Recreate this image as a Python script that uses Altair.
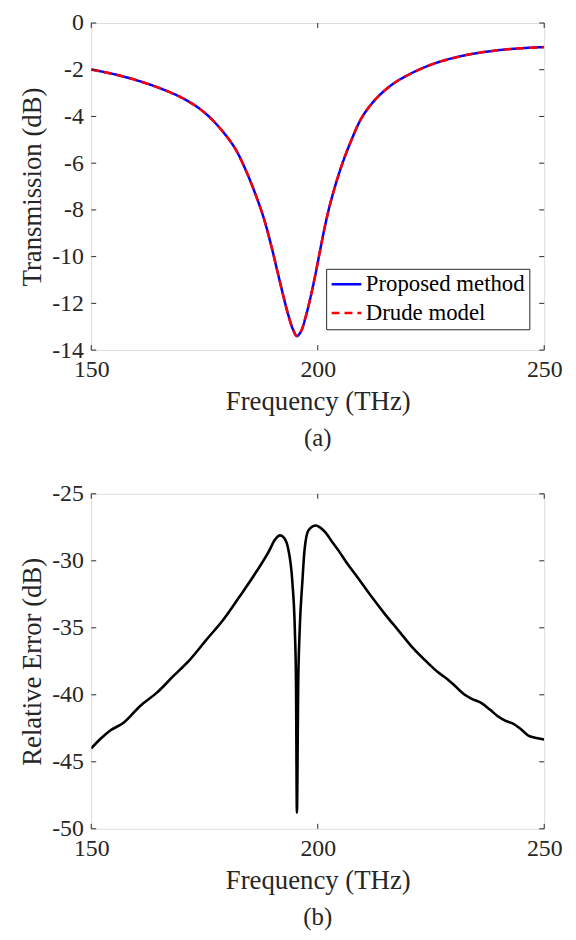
import altair as alt
import pandas as pd

# ---------------- data ----------------
freq_a = [150, 155, 160, 165, 170, 174, 177, 180, 182, 184, 186, 188, 189.5, 191,
          192.3, 193.5, 194.5, 195.4, 196.3, 197.3, 198.4, 199.5, 200.6, 201.7,
          202.8, 205.0, 207.2, 209.7, 212.6, 216.3, 220.7, 225.8, 232.3, 239.6,
          245, 250]
trans_proposed = [-1.99, -2.19, -2.45, -2.78, -3.20, -3.68, -4.20, -4.88, -5.45,
                  -6.25, -7.20, -8.30, -9.35, -10.55, -11.60, -12.50, -13.10,
                  -13.40, -13.20, -12.60, -11.75, -10.75, -9.65, -8.60, -7.70,
                  -6.26, -5.12, -4.06, -3.30, -2.65, -2.15, -1.73, -1.39, -1.17,
                  -1.08, -1.03]
trans_drude = [-1.99, -2.19, -2.45, -2.78, -3.20, -3.68, -4.20, -4.88, -5.45,
               -6.25, -7.20, -8.30, -9.35, -10.55, -11.60, -12.50, -13.10,
               -13.40, -13.20, -12.60, -11.75, -10.75, -9.65, -8.60, -7.70,
               -6.26, -5.12, -4.06, -3.30, -2.65, -2.15, -1.73, -1.39, -1.17,
               -1.08, -1.03]

freq_b = [150, 152, 154.2, 157.2, 160.8, 164.5, 168.1, 171.8, 175.4, 179.1, 182.7,
          186.4, 189.3, 190.5, 191.7, 192.6, 193.5, 194.4, 194.96, 195.2, 195.4,
          195.7, 196.0, 196.6, 197.1, 198.0, 199.6, 200.5, 201.7, 203, 204.6,
          206.5, 208.2, 211.9, 215, 217.7, 221, 224.3, 226.5, 228.7, 230.5, 232.3,
          234, 236.0, 238, 239.6, 241.5, 243.3, 245, 246.5, 248, 250]
rel_err = [-44.0, -43.3, -42.67, -42.06, -40.83, -39.84, -38.61, -37.37, -35.9,
           -34.42, -32.69, -30.84, -29.24, -28.45, -28.1, -28.3, -29.14, -31.6,
           -35.3, -39.0, -48.8, -39.0, -35.3, -31.6, -29.14, -27.7, -27.37, -27.5,
           -27.88, -28.5, -29.24, -30.2, -30.96, -32.69, -34.05, -35.15, -36.5,
           -37.62, -38.3, -38.85, -39.4, -39.96, -40.3, -40.58, -41.1, -41.56,
           -41.95, -42.18, -42.6, -43.05, -43.2, -43.34]

series_names = ["Proposed method", "Drude model"]
x_ticks = [150, 200, 250]
y_ticks_a = [0, -2, -4, -6, -8, -10, -12, -14]
y_ticks_b = [-25, -30, -35, -40, -45, -50]

# ---------------- styling ----------------
FONT = "Liberation Serif"
INK = "#262626"
W = 457
HA = 330
HB = 338
TICK = 5
LAB = 24
TIT = 27


def x_axis():
    return alt.Axis(values=x_ticks, ticks=False, domain=False, grid=False,
                    labelFlush=False, labelFont=FONT, labelFontSize=LAB,
                    labelColor=INK, labelPadding=8, labelExpr="'' + datum.value",
                    title="Frequency (THz)", titleFont=FONT, titleFontSize=TIT,
                    titleFontWeight="normal", titleColor=INK, titlePadding=7)


def y_axis(vals, title):
    return alt.Axis(values=vals, ticks=False, domain=False, grid=False,
                    labelFont=FONT, labelFontSize=LAB, labelColor=INK,
                    labelPadding=8, labelExpr="'' + datum.value",
                    title=title, titleFont=FONT, titleFontSize=TIT,
                    titleFontWeight="normal", titleColor=INK, titlePadding=5)


def tick_layers(yvals, xscale, yscale, h, ytitle):
    tx = pd.DataFrame({"freq": x_ticks})
    ty = pd.DataFrame({"val": yvals})
    base_x = alt.Chart(tx).mark_rule(color=INK, strokeWidth=1)
    base_y = alt.Chart(ty).mark_rule(color=INK, strokeWidth=1)
    xe = alt.X("freq:Q", scale=xscale, axis=x_axis())
    ye = alt.Y("val:Q", scale=yscale, axis=y_axis(yvals, ytitle))
    return [
        base_x.encode(x=xe, y=alt.value(h), y2=alt.value(h - TICK)),
        base_x.encode(x=xe, y=alt.value(0), y2=alt.value(TICK)),
        base_y.encode(y=ye, x=alt.value(0), x2=alt.value(TICK)),
        base_y.encode(y=ye, x=alt.value(W - TICK), x2=alt.value(W)),
    ]


xscale = alt.Scale(domain=[150, 250], nice=False, zero=False)
yscale_a = alt.Scale(domain=[-14, 0], nice=False, zero=False)
yscale_b = alt.Scale(domain=[-50, -25], nice=False, zero=False)

# ---------------- panel (a) ----------------
n = len(freq_a)
df_a = pd.DataFrame({
    "freq": freq_a + freq_a,
    "val": trans_proposed + trans_drude,
    "series": [series_names[0]] * n + [series_names[1]] * n,
})

legend = alt.Legend(orient="none", legendX=237, legendY=248, title=None,
                    direction="vertical", labelFont=FONT, labelFontSize=23,
                    labelColor="black", labelLimit=400, labelOffset=3,
                    symbolType="stroke", symbolSize=900, symbolStrokeWidth=2.5,
                    clipHeight=23, rowPadding=5, padding=4,
                    strokeColor=INK, fillColor="white")

line_a = alt.Chart(df_a).mark_line(strokeWidth=2.5, interpolate="catmull-rom", clip=True).encode(
    x=alt.X("freq:Q", scale=xscale, axis=x_axis()),
    y=alt.Y("val:Q", scale=yscale_a, axis=y_axis(y_ticks_a, "Transmission (dB)")),
    color=alt.Color("series:N", scale=alt.Scale(domain=series_names, range=["#0000ff", "#ff0000"]),
                    legend=legend),
    strokeDash=alt.StrokeDash("series:N", scale=alt.Scale(domain=series_names, range=[[1, 0], [8, 5]]),
                              legend=legend),
)

top = alt.layer(line_a, *tick_layers(y_ticks_a, xscale, yscale_a, HA, "Transmission (dB)")).properties(
    width=W, height=HA,
    title=alt.TitleParams("(a)", orient="bottom", font=FONT, fontSize=25,
                          fontWeight="normal", color=INK, offset=12),
)

# ---------------- panel (b) ----------------
df_b = pd.DataFrame({"freq": freq_b, "val": rel_err})
line_b = alt.Chart(df_b).mark_line(strokeWidth=2.6, color="black", interpolate="monotone", clip=True).encode(
    x=alt.X("freq:Q", scale=xscale, axis=x_axis()),
    y=alt.Y("val:Q", scale=yscale_b, axis=y_axis(y_ticks_b, "Relative Error (dB)")),
)

bottom = alt.layer(line_b, *tick_layers(y_ticks_b, xscale, yscale_b, HB, "Relative Error (dB)")).properties(
    width=W, height=HB,
    title=alt.TitleParams("(b)", orient="bottom", font=FONT, fontSize=25,
                          fontWeight="normal", color=INK, offset=12),
)

chart = alt.vconcat(top, bottom, spacing=29).properties(
    padding={"left": 10, "top": -2, "right": 5, "bottom": 0}
).configure_view(stroke=INK, strokeWidth=1).configure(font=FONT)

chart.save("out.html", embed_options={"renderer": "svg", "actions": False})
